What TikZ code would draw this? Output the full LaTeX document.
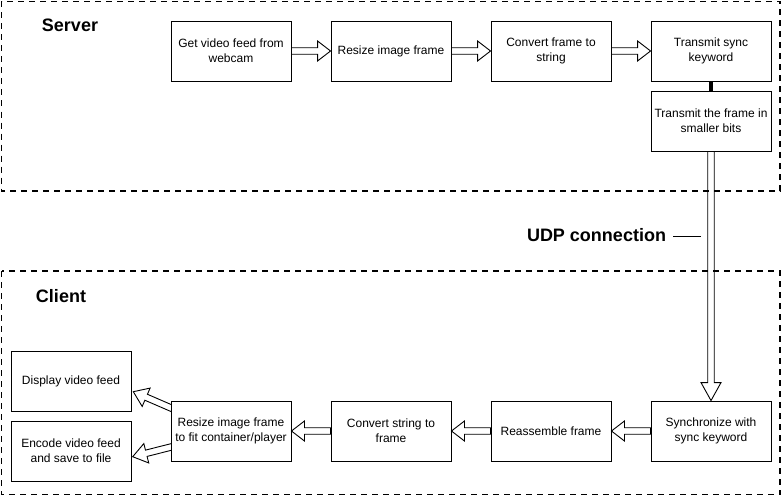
\documentclass[tikz,border=0pt]{standalone}
\usepackage{fontspec}
\setmainfont{Liberation Sans}
\usetikzlibrary{calc}
\tikzset{
  box/.style={draw, fill=white, line width=0.9pt, minimum width=120pt, minimum height=60pt,
    inner sep=0pt, align=center, font=\fontsize{12}{15}\selectfont},
  region/.style={draw, line width=1.6pt, dash pattern=on 6pt off 5pt},
  title/.style={font=\fontsize{18}{22}\selectfont\bfseries, inner sep=0pt},
  flexline/.style={draw, line width=0.9pt, line join=miter},
}
% #1 head length, #2 start, #3 tip
\newcommand\flexarr[3][13]{%
  \coordinate (fah) at ($#3!#1pt!#2$);
  \draw[flexline] ($#2!3.25pt!90:#3$) -- ($(fah)!3.25pt!90:#3$) -- ($(fah)!10pt!90:#3$) -- #3
    -- ($(fah)!10pt!-90:#3$) -- ($(fah)!3.25pt!-90:#3$) -- ($#2!3.25pt!-90:#3$) -- cycle;
}
\begin{document}
\begin{tikzpicture}[x=1pt, y=-1pt]
\useasboundingbox (0,0) rectangle (783,500);

% regions
\draw[region] (1.5,1.5) rectangle (780,191);
\draw[region] (1.5,271) rectangle (780,494.5);
\node[title] (server) at (70,25) {Server};
\node[title] (client) at (61,296) {Client};

% positions
\coordinate (p1) at (231,51);
\coordinate (p2) at (391,51);
\coordinate (p3) at (551,51);
\coordinate (p4) at (711,51);
\coordinate (p5) at (711,121);
\coordinate (q1) at (711,431);
\coordinate (q2) at (551,431);
\coordinate (q3) at (391,431);
\coordinate (q4) at (231,431);
\coordinate (q5) at (71,381);
\coordinate (q6) at (71,451);

% server boxes
\node[box] (s1) at (p1) {Get video feed from\\webcam};
\node[box] (s2) at (p2) {Resize image frame};
\node[box] (s3) at (p3) {Convert frame to\\string};
\node[box] (s4) at (p4) {Transmit sync\\keyword};
\node[box] (s5) at (p5) {Transmit the frame in\\smaller bits};

% diagonal arrows first, so the box covers their tails
\coordinate (c4a) at ($(q4)+(-54,-20.4)$);
\coordinate (c4b) at ($(q4)+(-54,14.5)$);
\coordinate (d1t) at ($(q5)+(62.3,10.7)$);
\coordinate (d2t) at ($(q6)+(61.7,5.7)$);
\flexarr[14]{(c4a)}{(d1t)}
\flexarr[14]{(c4b)}{(d2t)}

\node[box] (c1) at (q1) {Synchronize with\\sync keyword};
\node[box] (c2) at (q2) {Reassemble frame};
\node[box] (c3) at (q3) {Convert string to\\frame};
\node[box] (c4) at (q4) {Resize image frame\\to fit container/player};
\node[box] (d1) at (q5) {Display video feed};
\node[box] (d2) at (q6) {Encode video feed\\and save to file};

% server arrows
\flexarr{(s1.east)}{(s2.west)}
\flexarr{(s2.east)}{(s3.west)}
\flexarr{(s3.east)}{(s4.west)}
\draw[line width=4pt] (s4.south) -- (s5.north);

% UDP arrow
\flexarr[18]{(s5.south)}{(c1.north)}
\node[title] (udp) at (596.5,235) {UDP connection};
\coordinate (udpend) at (701,236.5);
\draw[line width=1.5pt] ([xshift=7pt,yshift=-1.5pt]udp.east) -- (udpend);

% client arrows
\flexarr{(c1.west)}{(c2.east)}
\flexarr{(c2.west)}{(c3.east)}
\flexarr{(c3.west)}{(c4.east)}
\end{tikzpicture}
\end{document}
